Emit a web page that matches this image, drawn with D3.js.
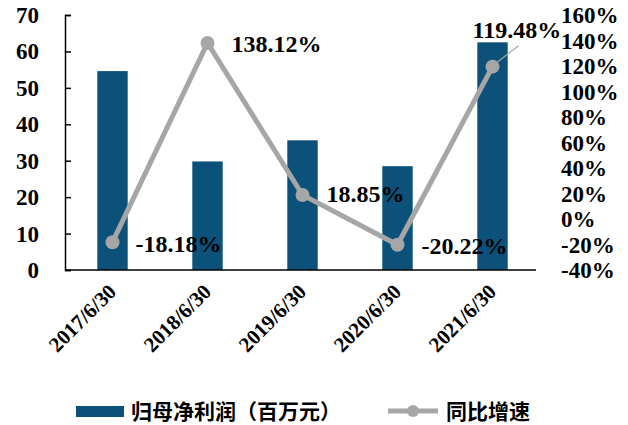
<!DOCTYPE html>
<html>
<head>
<meta charset="utf-8">
<script src="https://cdn.jsdelivr.net/npm/d3@7"></script>
<style>
  body { margin: 0; background: #fff; }
  svg text { font-family: "Liberation Serif", "Times New Roman", serif; font-weight: bold; }
</style>
</head>
<body>
<div id="chart"></div>
<script>
var categories = ["2017/6/30", "2018/6/30", "2019/6/30", "2020/6/30", "2021/6/30"];
var profit = [54.6, 29.8, 35.6, 28.5, 62.5];
var growth = [-18.18, 138.12, 18.85, -20.22, 119.48];
var leftTicks = [0, 10, 20, 30, 40, 50, 60, 70];
var rightTicks = [-40, -20, 0, 20, 40, 60, 80, 100, 120, 140, 160];
var legendNames = ["归母净利润（百万元）", "同比增速"];

var width = 628, height = 425;
var barColor = "#0b5179", lineColor = "#a6a6a6";

var svg = d3.select("#chart").append("svg")
  .attr("width", width)
  .attr("height", height);

var x = d3.scaleBand().domain(categories).range([65, 540]).paddingInner(0.68).paddingOuter(0.34);
var yL = d3.scaleLinear().domain([0, 70]).range([270, 15]);
var yR = d3.scaleLinear().domain([-40, 160]).range([270, 15]);

// left axis
var leftAxis = svg.append("g")
  .attr("transform", "translate(65,0)")
  .call(d3.axisRight(yL).tickValues(leftTicks).tickSize(6).tickFormat(""));
leftAxis.select(".domain").attr("stroke", "#000").attr("stroke-width", 1.5);
leftAxis.selectAll(".tick line").attr("stroke", "#000").attr("stroke-width", 1.5);

svg.selectAll(".ltick")
  .data(leftTicks)
  .enter().append("text")
  .attr("class", "ltick")
  .attr("x", 39)
  .attr("y", function(d) { return yL(d); })
  .attr("dy", "0.35em")
  .attr("text-anchor", "end")
  .attr("font-size", 23)
  .text(function(d) { return d; });

svg.selectAll(".rtick")
  .data(rightTicks)
  .enter().append("text")
  .attr("class", "rtick")
  .attr("x", 561)
  .attr("y", function(d) { return yR(d); })
  .attr("dy", "0.35em")
  .attr("font-size", 23)
  .text(function(d) { return d + "%"; });

// bars
svg.selectAll(".bar")
  .data(profit)
  .enter().append("rect")
  .attr("class", "bar")
  .attr("x", function(d, i) { return x(categories[i]); })
  .attr("width", x.bandwidth())
  .attr("y", function(d) { return yL(d); })
  .attr("height", function(d) { return yL(0) - yL(d); })
  .attr("fill", barColor);

// bottom axis line
svg.append("line")
  .attr("x1", 65).attr("x2", 536)
  .attr("y1", yL(0)).attr("y2", yL(0))
  .attr("stroke", "#000").attr("stroke-width", 1.5);

// category labels
svg.selectAll(".xlab")
  .data(categories)
  .enter().append("text")
  .attr("class", "xlab")
  .attr("text-anchor", "end")
  .attr("font-size", 21)
  .attr("transform", function(d) {
    return "translate(" + (x(d) + x.bandwidth() / 2 + 5) + ",293) rotate(-45)";
  })
  .text(function(d) { return d; });

// line
var cx = function(i) { return x(categories[i]) + x.bandwidth() / 2; };
var line = d3.line()
  .x(function(d, i) { return cx(i); })
  .y(function(d) { return yR(d); });

svg.append("path")
  .datum(growth)
  .attr("d", line)
  .attr("fill", "none")
  .attr("stroke", lineColor)
  .attr("stroke-width", 5);

// leader line for the last label
svg.append("line")
  .attr("x1", cx(4) + 4).attr("y1", yR(growth[4]) - 4)
  .attr("x2", cx(4) + 26).attr("y2", yR(growth[4]) - 21)
  .attr("stroke", lineColor).attr("stroke-width", 1.2);

svg.selectAll(".dot")
  .data(growth)
  .enter().append("circle")
  .attr("class", "dot")
  .attr("cx", function(d, i) { return cx(i); })
  .attr("cy", function(d) { return yR(d); })
  .attr("r", 7)
  .attr("fill", lineColor);

var labelOffsets = [[23, 10], [24, 9], [24, 7], [24, 9], [-20, -29]];
svg.selectAll(".vlab")
  .data(growth)
  .enter().append("text")
  .attr("class", "vlab")
  .attr("x", function(d, i) { return cx(i) + labelOffsets[i][0]; })
  .attr("y", function(d, i) { return yR(d) + labelOffsets[i][1]; })
  .attr("font-size", 24)
  .attr("fill", "#000")
  .text(function(d) { return d.toFixed(2) + "%"; });

// legend
var lg = svg.append("g");
lg.append("rect")
  .attr("x", 76).attr("y", 406).attr("width", 48).attr("height", 11)
  .attr("fill", barColor);
lg.append("text")
  .attr("x", 131).attr("y", 412).attr("dy", "0.35em")
  .attr("font-size", 21)
  .style("font-family", "'Noto Sans CJK SC', sans-serif")
  .style("font-weight", "bold")
  .text(legendNames[0]);
lg.append("line")
  .attr("x1", 388).attr("x2", 438).attr("y1", 411).attr("y2", 411)
  .attr("stroke", lineColor).attr("stroke-width", 5);
lg.append("circle")
  .attr("cx", 413).attr("cy", 411).attr("r", 6).attr("fill", lineColor);
lg.append("text")
  .attr("x", 446).attr("y", 412).attr("dy", "0.35em")
  .attr("font-size", 21)
  .style("font-family", "'Noto Sans CJK SC', sans-serif")
  .style("font-weight", "bold")
  .text(legendNames[1]);
</script>
</body>
</html>
